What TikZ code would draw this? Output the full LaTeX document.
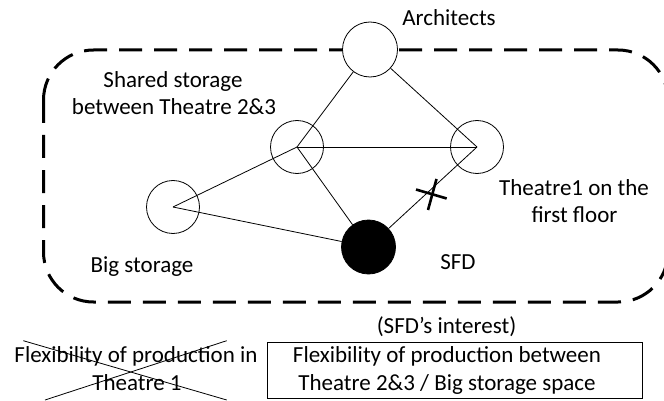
\documentclass[tikz,border=0pt]{standalone}
\usepackage{fontspec}
\setmainfont{Carlito}
\begin{document}
\begin{tikzpicture}[x=1pt,y=-1pt,
  txt/.style={inner sep=0pt,anchor=base,font=\fontsize{23}{28}\selectfont},
  ring/.style={circle,draw,line width=0.8pt,minimum size=53pt,inner sep=0pt},
  edge/.style={line width=0.8pt},
  grp/.style={line width=3pt,dash pattern=on 23pt off 12pt,rounded corners=50pt}]
\useasboundingbox (0,0) rectangle (664,401);
\clip (0,0) rectangle (664,401);
% dashed group
\draw[grp] (43.5,50) rectangle (668,302);
% circles
\node[ring,fill=white,minimum size=55pt] (arch) at (370,49.5) {};
\node[ring] (shared) at (297,147) {};
\node[ring] (th1) at (477,147) {};
\node[ring] (big) at (173,207) {};
\node[ring,fill=black,minimum size=54pt] (sfd) at (368.5,247) {};
% connectors
\draw[edge] (arch) -- (shared.center);
\draw[edge] (arch) -- (th1.center);
\draw[edge] (shared.center) -- (th1.center);
\draw[edge] (shared.center) -- (big.center);
\draw[edge] (shared.center) -- (sfd);
\draw[edge] (big.center) -- (sfd);
\draw[edge] (sfd) -- (th1.center);
% cross mark on SFD--Theatre1
\coordinate (xm) at (431.5,194.5);
\draw[line width=2.6pt] ([shift={(-15.5,-5)}]xm) -- ([shift={(15.2,4)}]xm);
\draw[line width=2.6pt] ([shift={(-3.5,15.5)}]xm) -- ([shift={(5,-15.5)}]xm);
% labels
\node[txt] (larch) at (449,26) {Architects};
\node[txt] (lsh1) at (173,87.3) {Shared storage};
\node[txt] (lsh2) at (174,114.3) {between Theatre 2\&3};
\node[txt] (lth1) at (574,195) {Theatre1 on the};
\node[txt] (lth2) at (574.5,222) {first floor};
\node[txt] (lbig) at (142,272.7) {Big storage};
\node[txt] (lsfd) at (458,269.3) {SFD};
\node[txt] (lint) at (446.5,333) {(SFD’s interest)};
% box
\node[draw,line width=0.8pt,minimum width=375pt,minimum height=56pt,inner sep=0pt] (box) at (454.5,370) {};
\node[txt] (bx1) at (447,362) {Flexibility of production between};
\node[txt] (bx2) at (447,390) {Theatre 2\&3 / Big storage space};
% crossed-out text
\node[txt] (cr1) at (136,362) {Flexibility of production in};
\node[txt] (cr2) at (137,390) {Theatre 1};
\coordinate (ca) at (23.3,340.7);
\coordinate (cb) at (226.7,400);
\coordinate (cc) at (45,400);
\coordinate (cd) at (226.7,340.7);
\draw[edge] (ca) -- (cb);
\draw[edge] (cc) -- (cd);
\end{tikzpicture}
\end{document}
